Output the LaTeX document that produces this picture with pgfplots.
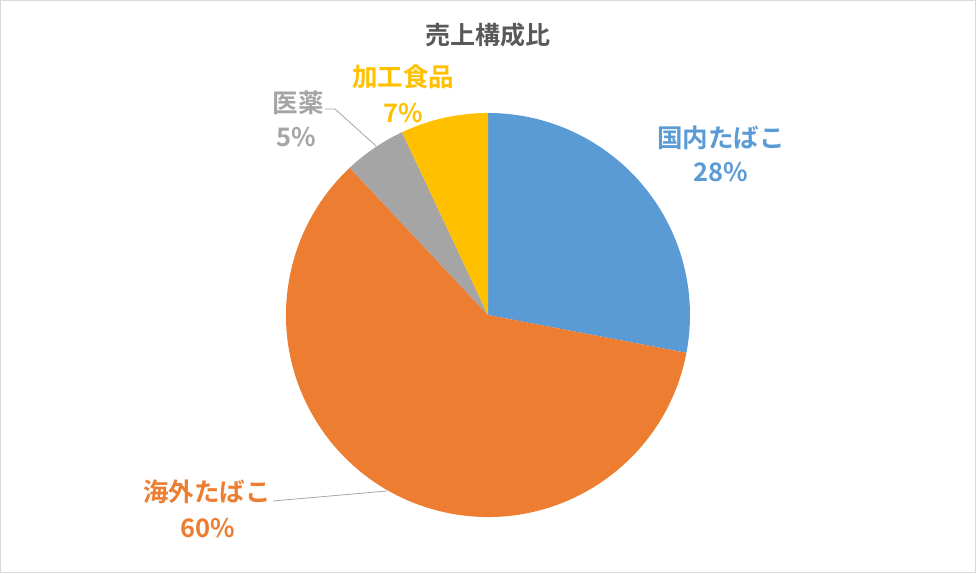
\documentclass[border=0pt]{standalone}
\usepackage{fontspec}
\setmainfont{Noto Sans CJK JP}[BoldFont={Noto Sans CJK JP Bold}]
\usepackage{pgfplots}
\usepackage{pgfplotstable}
\pgfplotsset{compat=1.18}
\definecolor{c1}{HTML}{5B9BD5}
\definecolor{c2}{HTML}{ED7D31}
\definecolor{c3}{HTML}{A5A5A5}
\definecolor{c4}{HTML}{FFC000}
\definecolor{ttl}{HTML}{595959}
\definecolor{brd}{HTML}{D9D9D9}
\definecolor{lead}{HTML}{A6A6A6}
\pgfplotstableread{
name value
kokunai 28
kaigai 60
iyaku 5
kakou 7
}\piedata
\begin{document}
\begin{tikzpicture}
\pgfplotstablegetelem{0}{value}\of\piedata\pgfmathsetmacro\Aa{90-3.6*\pgfplotsretval}%
\pgfplotstablegetelem{1}{value}\of\piedata\pgfmathsetmacro\Ab{\Aa-3.6*\pgfplotsretval}%
\pgfplotstablegetelem{2}{value}\of\piedata\pgfmathsetmacro\Ac{\Ab-3.6*\pgfplotsretval}%
\pgfplotstablegetelem{3}{value}\of\piedata\pgfmathsetmacro\Ad{\Ac-3.6*\pgfplotsretval}%
\begin{axis}[x=1bp,y=1bp,xmin=0,xmax=976,ymin=0,ymax=573,hide axis,clip=false]
\draw[brd,line width=1bp] (axis cs:0.5,0.5) rectangle (axis cs:975.5,572.5);
\fill[c1] (axis cs:488,258) -- ++(90:202bp) arc[start angle=90, end angle=\Aa, radius=202bp] -- cycle;
\fill[c2] (axis cs:488,258) -- ++(\Aa:202bp) arc[start angle=\Aa, end angle=\Ab, radius=202bp] -- cycle;
\fill[c3] (axis cs:488,258) -- ++(\Ab:202bp) arc[start angle=\Ab, end angle=\Ac, radius=202bp] -- cycle;
\fill[c4] (axis cs:488,258) -- ++(\Ac:202bp) arc[start angle=\Ac, end angle=\Ad, radius=202bp] -- cycle;
\draw[lead,line width=0.8bp] (axis cs:325,464) -- (axis cs:335,464) -- (axis cs:376,427);
\draw[lead,line width=0.8bp] (axis cs:273,72) -- (axis cs:387,82);
\node[font=\fontsize{25bp}{28bp}\selectfont\bfseries,text=ttl,inner sep=0] at (axis cs:488,538) {売上構成比};
\node[font=\fontsize{25.5bp}{28bp}\selectfont\bfseries,text=c4,inner sep=0] at (axis cs:403,496) {加工食品};
\node[font=\fontsize{25.5bp}{28bp}\selectfont\bfseries,text=c4,inner sep=0] at (axis cs:403,460) {7\%};
\node[font=\fontsize{25.5bp}{28bp}\selectfont\bfseries,text=c3,inner sep=0] at (axis cs:298,470) {医薬};
\node[font=\fontsize{25.5bp}{28bp}\selectfont\bfseries,text=c3,inner sep=0] at (axis cs:296,436) {5\%};
\node[font=\fontsize{25.5bp}{28bp}\selectfont\bfseries,text=c1,inner sep=0] at (axis cs:721,435) {国内たばこ};
\node[font=\fontsize{25.5bp}{28bp}\selectfont\bfseries,text=c1,inner sep=0] at (axis cs:721,401) {28\%};
\node[font=\fontsize{25.5bp}{28bp}\selectfont\bfseries,text=c2,inner sep=0] at (axis cs:207,81) {海外たばこ};
\node[font=\fontsize{25.5bp}{28bp}\selectfont\bfseries,text=c2,inner sep=0] at (axis cs:208,45) {60\%};
\end{axis}
\end{tikzpicture}
\end{document}
